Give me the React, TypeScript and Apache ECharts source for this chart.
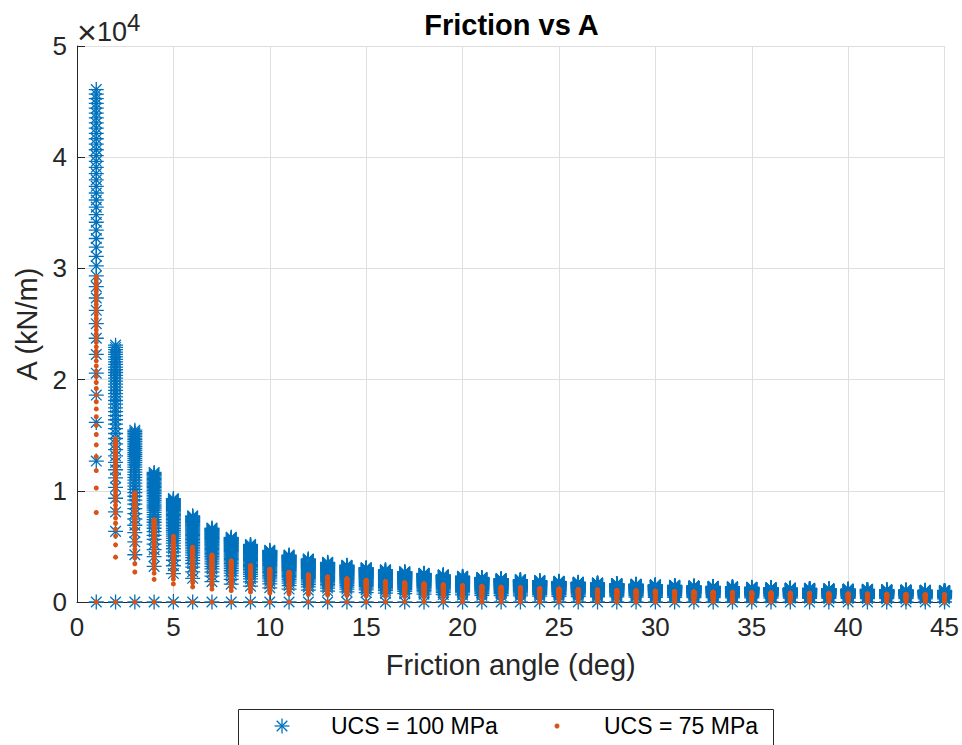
import React, { useEffect, useRef } from "react";
import * as echarts from "echarts";

// Friction angles (deg) at which A was evaluated
const frictionAngles = [
  1, 2, 3, 4, 5, 6, 7, 8, 9, 10, 11, 12, 13, 14, 15, 16, 17, 18, 19, 20, 21, 22, 23,
  24, 25, 26, 27, 28, 29, 30, 31, 32, 33, 34, 35, 36, 37, 38, 39, 40, 41, 42, 43, 44, 45,
];

// A (kN/m) values of the parameter sweep at a friction angle of 1 deg
const ucs100AtOneDegree = [
  0, 12670, 16150, 18610, 20580, 22260, 23720, 25030, 26230, 27340, 28360, 29330, 30230,
  31090, 31910, 32690, 33440, 34150, 34840, 35510, 36150, 36780, 37380, 37960, 38530,
  39090, 39630, 40150, 40670, 41170, 41660, 42150, 42620, 43080, 43530, 43970, 44410,
  44840, 45260, 45670, 46080,
];
const ucs75AtOneDegree = [
  0, 8050, 10250, 11820, 13070, 14130, 15060, 15890, 16660, 17360, 18010, 18620, 19200,
  19740, 20260, 20760, 21230, 21690, 22120, 22550, 22950, 23350, 23730, 24110, 24470,
  24820, 25160, 25500, 25820, 26140, 26450, 26760, 27060, 27350, 27640, 27920, 28190,
  28470, 28740, 29000, 29260,
];

// Largest A (kN/m) of the UCS = 100 MPa sweep at each friction angle
const ucs100PeakByAngle = [
  46080, 23100, 15450, 11650, 9300, 7750, 6650, 5820, 5170, 4650, 4220, 3870, 3570, 3310,
  3090, 2900, 2730, 2580, 2440, 2320, 2210, 2110, 2020, 1930, 1855, 1780, 1715, 1655, 1600,
  1545, 1495, 1450, 1405, 1365, 1325, 1290, 1255, 1225, 1190, 1160, 1135, 1105, 1080, 1055,
  1035,
];

const seriesNames = ["UCS = 100 MPa", "UCS = 75 MPa"];
const FONT = "'Liberation Sans', Arial, Helvetica, sans-serif";
const BLUE = "#0072BD";
const ORANGE = "#D95319";
const INK = "#262626";

const STAR = "path://M0,-10L0,10M-10,0L10,0M-7.07,-7.07L7.07,7.07M-7.07,7.07L7.07,-7.07";

// Each angle's sweep keeps the shape of the 1 deg sweep, scaled to that angle's peak
function sweepPoints(atOneDegree: number[]): number[][] {
  const pts: number[][] = [];
  frictionAngles.forEach((angle, i) => {
    const ratio = ucs100PeakByAngle[i] / ucs100PeakByAngle[0];
    atOneDegree.forEach((v) => pts.push([angle, Math.round(v * ratio)]));
  });
  return pts;
}

export default function App() {
  const ref = useRef<HTMLDivElement>(null);

  useEffect(() => {
    if (!ref.current) return;
    const chart = echarts.init(ref.current, undefined, { renderer: "svg" });

    const legendY = 726;
    const starCx = 282;
    const arm = 7.5;
    const diag = arm * 0.7071;

    chart.setOption({
      animation: false,
      backgroundColor: "#ffffff",
      grid: { left: 77, right: 16, top: 46, bottom: 143 },
      xAxis: {
        type: "value",
        min: 0,
        max: 45,
        interval: 5,
        axisLine: { show: true, onZero: false, lineStyle: { color: INK, width: 1 } },
        axisTick: { show: true, inside: true, length: 8, lineStyle: { color: INK } },
        axisLabel: { color: INK, fontSize: 26, fontFamily: FONT, margin: 12 },
        splitLine: { show: true, lineStyle: { color: "#dfdfdf", width: 1 } },
        name: "Friction angle (deg)",
        nameLocation: "middle",
        nameGap: 48,
        nameTextStyle: { color: INK, fontSize: 29, fontFamily: FONT },
      },
      yAxis: {
        type: "value",
        min: 0,
        max: 50000,
        interval: 10000,
        axisLine: { show: true, onZero: false, lineStyle: { color: INK, width: 1 } },
        axisTick: { show: true, inside: true, length: 8, lineStyle: { color: INK } },
        axisLabel: {
          color: INK,
          fontSize: 26,
          fontFamily: FONT,
          margin: 10,
          formatter: (v: number) => String(v / 10000),
        },
        splitLine: { show: true, lineStyle: { color: "#dfdfdf", width: 1 } },
        name: "A (kN/m)",
        nameLocation: "middle",
        nameGap: 35,
        nameRotate: 90,
        nameTextStyle: { color: INK, fontSize: 29, fontFamily: FONT },
      },
      series: [
        {
          type: "scatter",
          name: seriesNames[0],
          data: sweepPoints(ucs100AtOneDegree),
          symbol: STAR,
          symbolSize: 15,
          large: false,
          itemStyle: { color: "rgba(0,0,0,0)", borderColor: BLUE, borderWidth: 1.3, opacity: 1 },
          emphasis: { disabled: true },
          z: 2,
        },
        {
          type: "scatter",
          name: seriesNames[1],
          data: sweepPoints(ucs75AtOneDegree),
          symbol: "circle",
          symbolSize: 5,
          large: false,
          itemStyle: { color: ORANGE, opacity: 1 },
          emphasis: { disabled: true },
          z: 3,
        },
      ],
      graphic: [
        {
          type: "text",
          x: 511.5,
          y: 25,
          style: {
            text: "Friction vs A",
            font: `bold 29px ${FONT}`,
            fill: "#000000",
            align: "center",
            verticalAlign: "middle",
          },
        },
        {
          type: "text",
          x: 77,
          y: 32,
          style: { text: "×", font: `34px ${FONT}`, fill: INK, align: "left", verticalAlign: "middle" },
        },
        {
          type: "text",
          x: 97,
          y: 32,
          style: { text: "10", font: `27px ${FONT}`, fill: INK, align: "left", verticalAlign: "middle" },
        },
        {
          type: "text",
          x: 127,
          y: 22,
          style: { text: "4", font: `24px ${FONT}`, fill: INK, align: "left", verticalAlign: "middle" },
        },
        {
          type: "rect",
          shape: { x: 238.5, y: 709.5, width: 535, height: 60 },
          style: { fill: "#ffffff", stroke: INK, lineWidth: 1 },
        },
        {
          type: "group",
          children: [
            { type: "line", shape: { x1: starCx - arm, y1: legendY, x2: starCx + arm, y2: legendY }, style: { stroke: BLUE, lineWidth: 1.3 } },
            { type: "line", shape: { x1: starCx, y1: legendY - arm, x2: starCx, y2: legendY + arm }, style: { stroke: BLUE, lineWidth: 1.3 } },
            { type: "line", shape: { x1: starCx - diag, y1: legendY - diag, x2: starCx + diag, y2: legendY + diag }, style: { stroke: BLUE, lineWidth: 1.3 } },
            { type: "line", shape: { x1: starCx - diag, y1: legendY + diag, x2: starCx + diag, y2: legendY - diag }, style: { stroke: BLUE, lineWidth: 1.3 } },
          ],
        },
        {
          type: "text",
          x: 331,
          y: legendY,
          style: { text: seriesNames[0], font: `23px ${FONT}`, fill: "#000000", align: "left", verticalAlign: "middle" },
        },
        {
          type: "circle",
          shape: { cx: 557, cy: legendY, r: 2.5 },
          style: { fill: ORANGE },
        },
        {
          type: "text",
          x: 604,
          y: legendY,
          style: { text: seriesNames[1], font: `23px ${FONT}`, fill: "#000000", align: "left", verticalAlign: "middle" },
        },
      ],
    });

    return () => chart.dispose();
  }, []);

  return (
    <div
      ref={ref}
      style={{ position: "absolute", left: 0, top: 0, width: 962, height: 745 }}
    />
  );
}
